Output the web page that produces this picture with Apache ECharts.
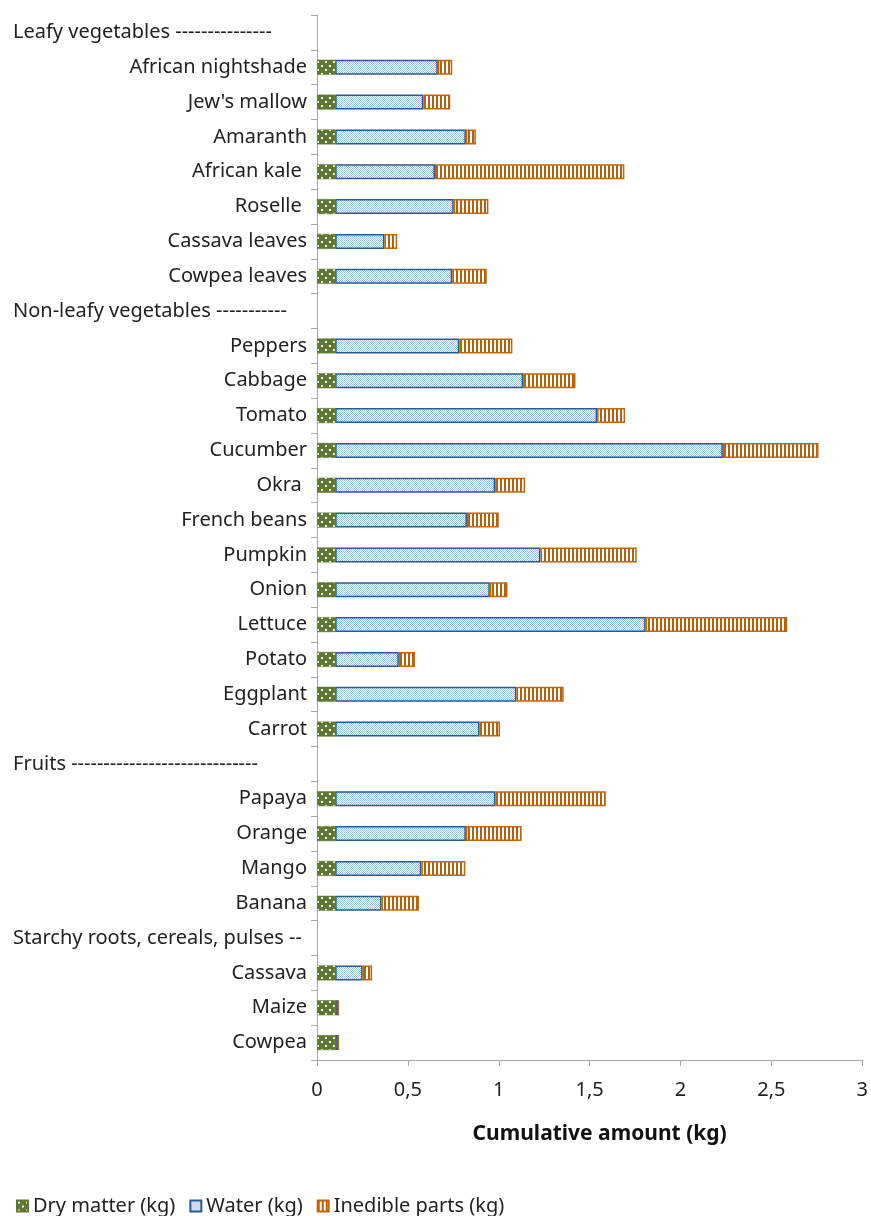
<!DOCTYPE html>
<html>
<head>
<meta charset="utf-8">
<script src="https://cdn.jsdelivr.net/npm/echarts@6/dist/echarts.min.js"></script>
<style>
html,body{margin:0;padding:0;background:#fff;}
#chart{width:871px;height:1216px;}
</style>
</head>
<body>
<div id="chart"></div>
<script>
const categories = [
  'Leafy vegetables ---------------',
  'African nightshade', "Jew's mallow", 'Amaranth', 'African kale ', 'Roselle ', 'Cassava leaves', 'Cowpea leaves',
  'Non-leafy vegetables -----------',
  'Peppers', 'Cabbage', 'Tomato', 'Cucumber', 'Okra ', 'French beans', 'Pumpkin', 'Onion', 'Lettuce', 'Potato', 'Eggplant', 'Carrot',
  'Fruits -----------------------------',
  'Papaya', 'Orange', 'Mango', 'Banana',
  'Starchy roots, cereals, pulses --',
  'Cassava', 'Maize', 'Cowpea'
];
const headers = [categories[0], categories[8], categories[21], categories[26]];

const dryMatter = [
  null, 0.1, 0.1, 0.1, 0.1, 0.1, 0.1, 0.1,
  null, 0.1, 0.1, 0.1, 0.1, 0.1, 0.1, 0.1, 0.1, 0.1, 0.1, 0.1, 0.1,
  null, 0.1, 0.1, 0.1, 0.1,
  null, 0.1, 0.1, 0.1
];
const water = [
  null, 0.565, 0.485, 0.719, 0.549, 0.652, 0.271, 0.644,
  null, 0.683, 1.034, 1.441, 2.133, 0.880, 0.725, 1.129, 0.851, 1.708, 0.350, 0.997, 0.794,
  null, 0.882, 0.719, 0.474, 0.255,
  null, 0.151, 0.017, 0.017
];
const inedible = [
  null, 0.079, 0.148, 0.055, 1.042, 0.191, 0.070, 0.190,
  null, 0.292, 0.288, 0.154, 0.526, 0.165, 0.175, 0.530, 0.097, 0.779, 0.089, 0.260, 0.113,
  null, 0.607, 0.307, 0.242, 0.206,
  null, 0.052, 0, 0
];
const xTicks = { min: 0, max: 3, interval: 0.5 };

function makePattern(w, h, draw) {
  const c = document.createElement('canvas');
  c.width = w; c.height = h;
  const ctx = c.getContext('2d');
  draw(ctx);
  return { image: c, repeat: 'repeat' };
}
const dryPattern = makePattern(8, 8, ctx => {
  ctx.fillStyle = '#5E7731'; ctx.fillRect(0, 0, 8, 8);
  ctx.fillStyle = '#ffffff';
  ctx.fillRect(1, 1, 2, 2);
  ctx.fillRect(5, 5, 2, 2);
});
const waterPattern = makePattern(2, 2, ctx => {
  ctx.fillStyle = '#ffffff'; ctx.fillRect(0, 0, 2, 2);
  ctx.fillStyle = '#9CBAE3';
  ctx.fillRect(0, 0, 1, 1);
  ctx.fillRect(1, 1, 1, 1);
});
const inediblePattern = makePattern(4, 4, ctx => {
  ctx.fillStyle = '#ffffff'; ctx.fillRect(0, 0, 4, 4);
  ctx.fillStyle = '#B5600B';
  ctx.fillRect(0, 0, 2, 4);
});

const FONT = '"Noto Sans", sans-serif';
const FS = 20;
const chart = echarts.init(document.getElementById('chart'), null, { renderer: 'canvas' });
chart.setOption({
  animation: false,
  textStyle: { fontFamily: FONT },
  grid: { left: 317, right: 7, top: 15, bottom: 156, containLabel: false },
  legend: {
    left: 16, bottom: 0, padding: 0,
    itemWidth: 11, itemHeight: 11, itemGap: 14,
    icon: 'rect',
    textStyle: { fontSize: FS, color: '#222', fontFamily: FONT },
    data: ['Dry matter (kg)', 'Water (kg)', 'Inedible parts (kg)']
  },
  xAxis: {
    type: 'value',
    min: xTicks.min, max: xTicks.max, interval: xTicks.interval,
    name: 'Cumulative amount (kg)',
    nameLocation: 'middle',
    nameGap: 64,
    nameTextStyle: { fontSize: 21, fontWeight: 'bold', color: '#111', fontFamily: FONT, padding: [0, 0, 0, 20] },
    axisLine: { show: true, lineStyle: { color: '#A6A6A6', width: 1 } },
    axisTick: { show: true, length: 6, lineStyle: { color: '#A6A6A6' } },
    axisLabel: {
      fontSize: FS, color: '#222', margin: 20, fontFamily: FONT,
      formatter: v => String(v).replace('.', ',')
    },
    splitLine: { show: false }
  },
  yAxis: {
    type: 'category',
    inverse: true,
    data: categories,
    axisLine: { show: true, lineStyle: { color: '#A6A6A6', width: 1 } },
    axisTick: { show: true, length: 6, alignWithLabel: false, lineStyle: { color: '#A6A6A6' } },
    axisLabel: {
      interval: 0,
      fontSize: FS, color: '#222', margin: 10, fontFamily: FONT,
      formatter: v => headers.includes(v) ? '{h|' + v + '}' : v,
      rich: { h: { width: 294, align: 'left', fontSize: FS, color: '#222', fontFamily: FONT } }
    }
  },
  series: [
    {
      name: 'Dry matter (kg)', type: 'bar', stack: 'total', barWidth: 15,
      itemStyle: { color: dryPattern, borderColor: '#5E7731', borderWidth: 0.5 },
      data: dryMatter
    },
    {
      name: 'Water (kg)', type: 'bar', stack: 'total', barWidth: 15,
      itemStyle: { color: waterPattern, borderColor: '#2C5A8C', borderWidth: 1.5 },
      data: water
    },
    {
      name: 'Inedible parts (kg)', type: 'bar', stack: 'total', barWidth: 15,
      itemStyle: { color: inediblePattern, borderColor: '#C0650C', borderWidth: 1.5 },
      data: inedible
    }
  ]
});
</script>
</body>
</html>
